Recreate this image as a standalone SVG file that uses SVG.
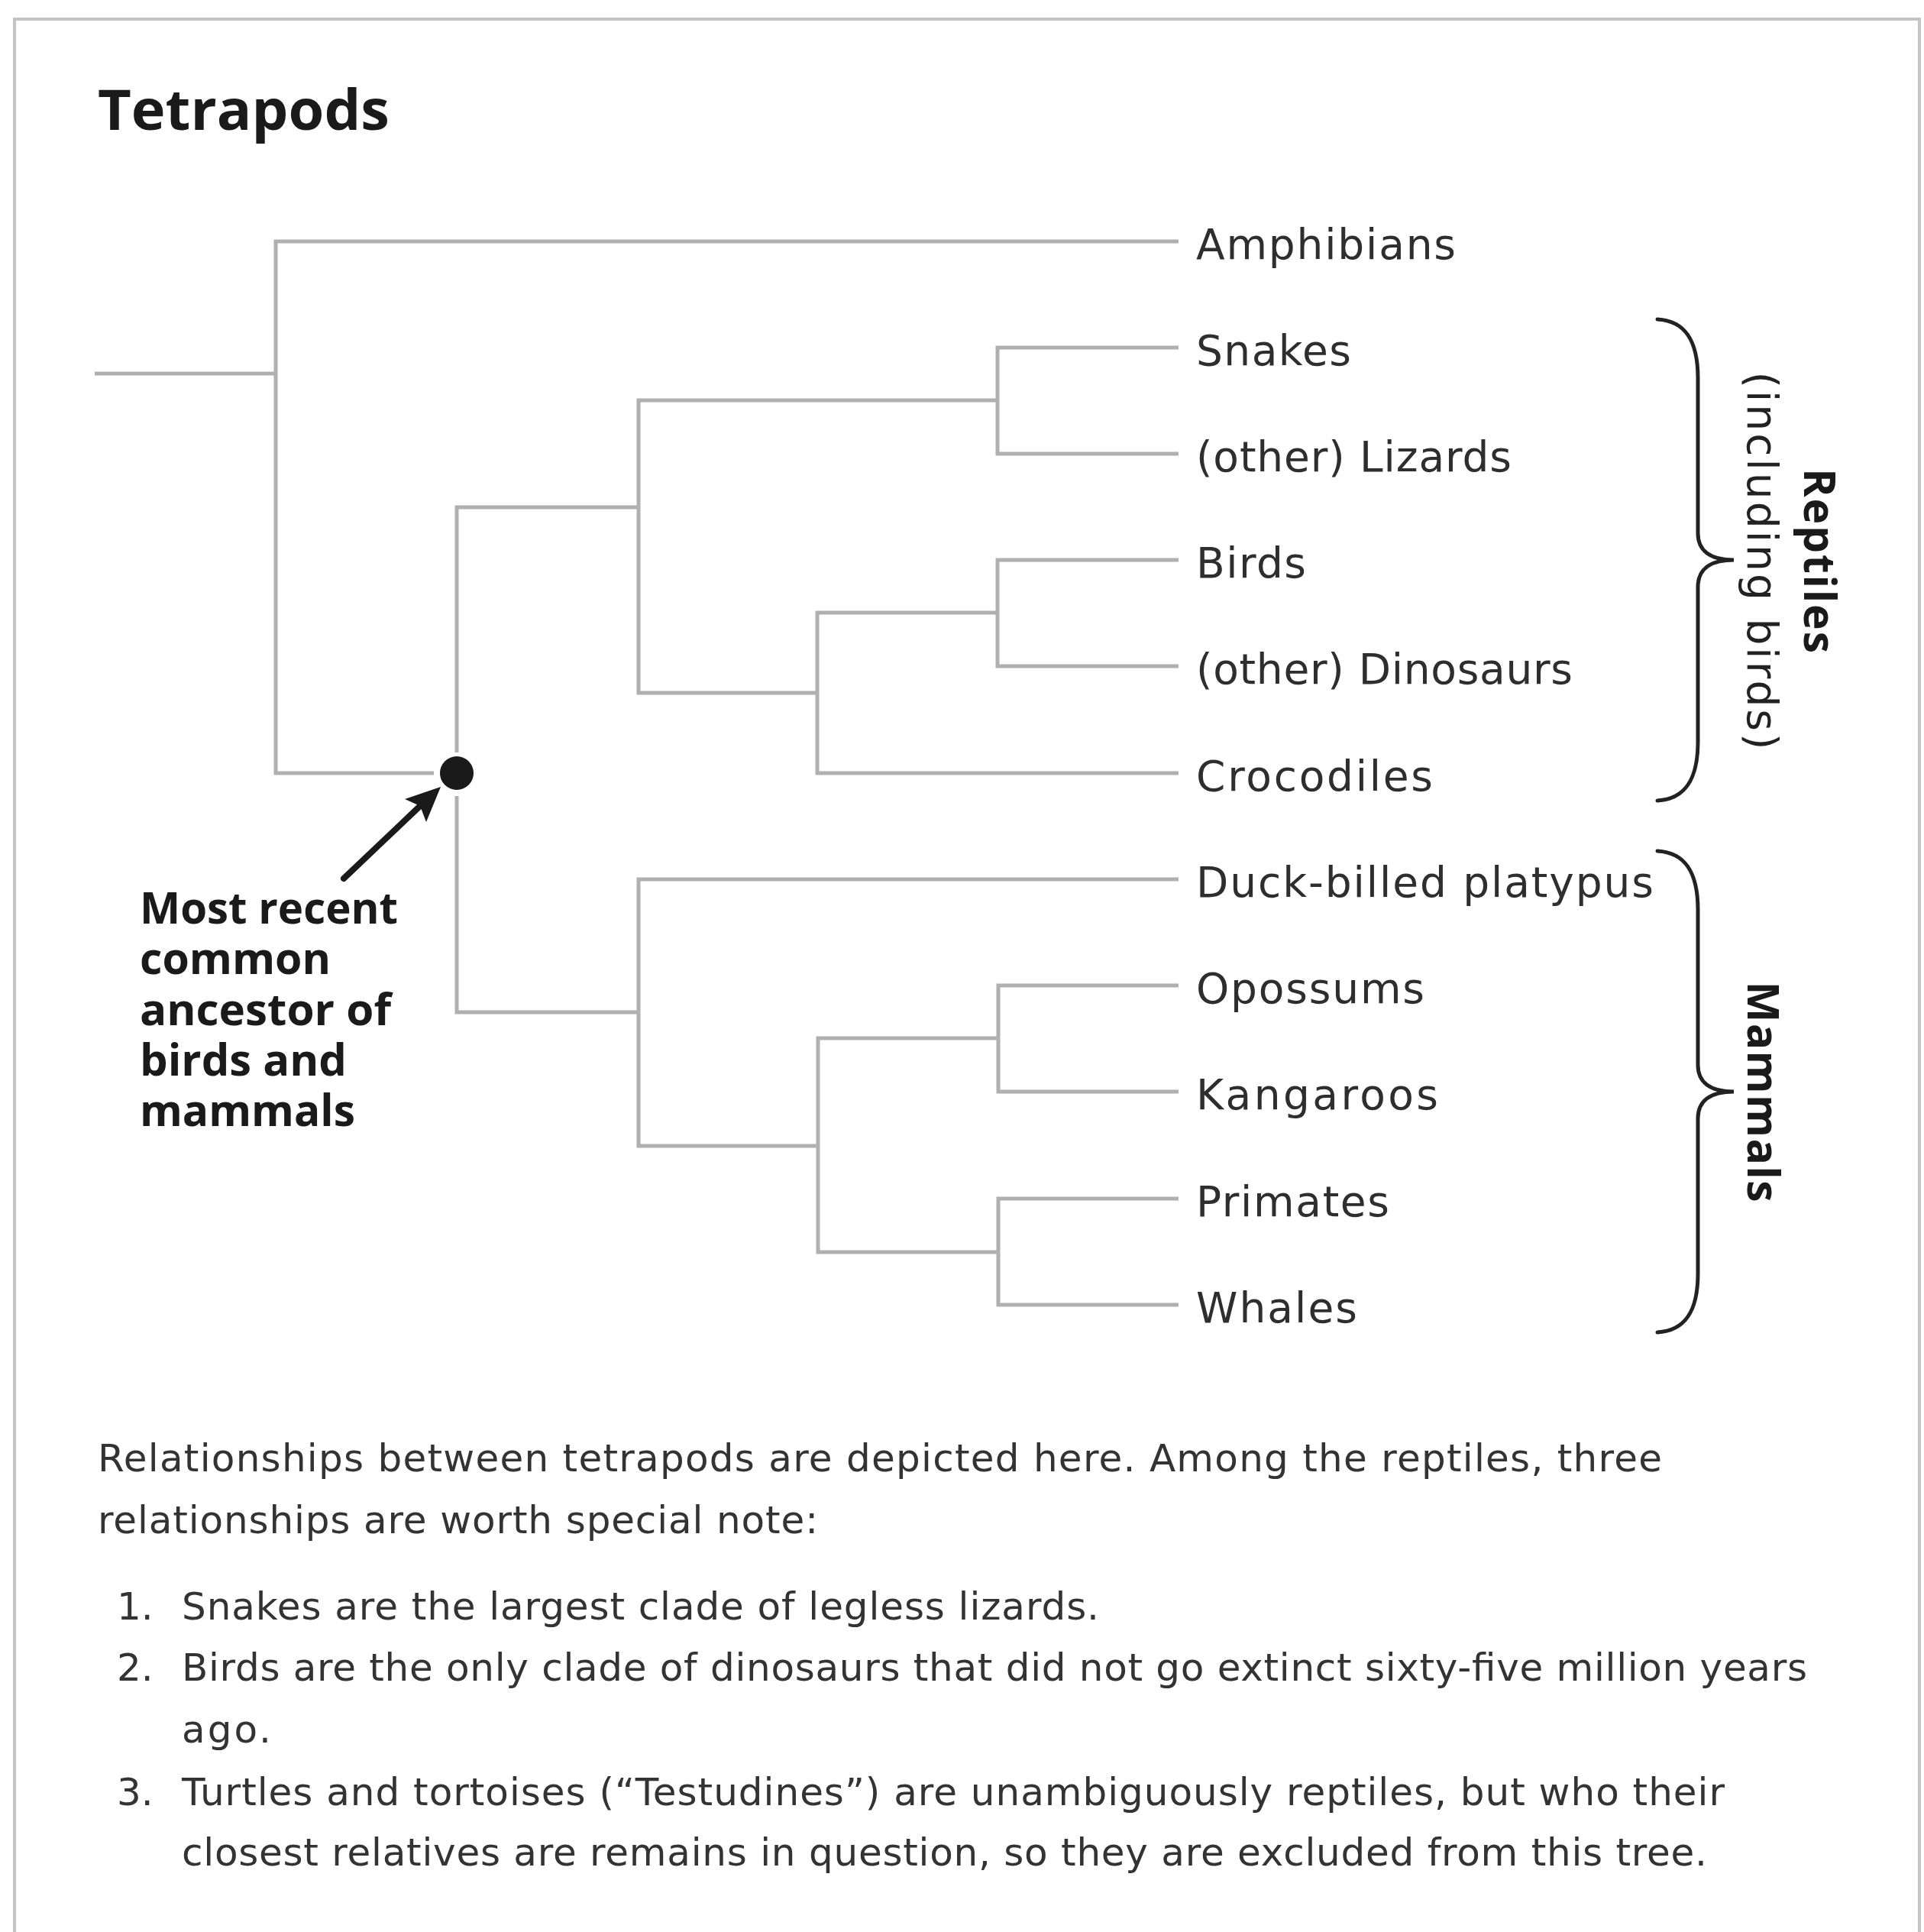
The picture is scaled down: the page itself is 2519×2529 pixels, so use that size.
<svg xmlns="http://www.w3.org/2000/svg" width="2519" height="2529" viewBox="0 0 2519 2529">
<style>
  .frame{fill:none;stroke:#c4c4c4;stroke-width:4}
  .br{fill:none;stroke:#b0b0b0;stroke-width:5;stroke-linejoin:miter;stroke-linecap:butt}
  .brace{fill:none;stroke:#222;stroke-width:5;stroke-linecap:round}
  .leaf{font-family:"DejaVu Sans","Open Sans",sans-serif;font-size:55px;fill:#2e2e2e}
  .title{font-family:"Open Sans","Noto Sans",sans-serif;font-size:73px;font-weight:700;fill:#1a1a1a}
  .ann{font-family:"Open Sans","Noto Sans",sans-serif;font-size:57px;font-weight:700;fill:#1a1a1a}
  .grp{font-family:"DejaVu Sans","Open Sans",sans-serif;font-size:55px;fill:#222}
  .grpb{font-family:"Open Sans","Noto Sans",sans-serif;font-size:57px;font-weight:700;fill:#1a1a1a}
  .body{font-family:"DejaVu Sans","Open Sans",sans-serif;font-size:50px;fill:#333}
</style>
<rect width="2519" height="2529" fill="#fff"/>
<rect class="frame" x="19" y="25" width="2494" height="2620"/>
<text id="title" class="title" x="128" y="170" textLength="382" lengthAdjust="spacingAndGlyphs">Tetrapods</text>

<g id="connectors">
  <path class="br" d="M124,489 H361"/>
  <path class="br" d="M1543,316 H361 V1012 H568"/>
  <path class="br" d="M598,985 V664 H836"/>
  <path class="br" d="M1543,455 H1306 V594 H1543"/>
  <path class="br" d="M1306,524 H836 V907 H1070"/>
  <path class="br" d="M1543,733 H1306 V872 H1543"/>
  <path class="br" d="M1306,802 H1070 V1012 H1543"/>
  <path class="br" d="M598,1042 V1325 H836"/>
  <path class="br" d="M1543,1151 H836 V1500 H1071"/>
  <path class="br" d="M1307,1359 H1071 V1639 H1307"/>
  <path class="br" d="M1543,1290 H1307 V1429 H1543"/>
  <path class="br" d="M1543,1569 H1307 V1708 H1543"/>
  <path d="M450,1150 L550,1055" stroke="#1a1a1a" stroke-width="8" stroke-linecap="round"/>
  <polygon points="577,1030 530,1046 550,1055 558,1076" fill="#1a1a1a"/>
</g>

<g id="ancestor">
  <circle cx="598" cy="1012" r="22" fill="#1a1a1a"/>
  <text class="ann" x="183" y="1209" textLength="338" lengthAdjust="spacingAndGlyphs">Most recent</text>
  <text class="ann" x="183" y="1275" textLength="250" lengthAdjust="spacingAndGlyphs">common</text>
  <text class="ann" x="183" y="1342" textLength="329" lengthAdjust="spacingAndGlyphs">ancestor of</text>
  <text class="ann" x="183" y="1408" textLength="271" lengthAdjust="spacingAndGlyphs">birds and</text>
  <text class="ann" x="183" y="1474" textLength="282" lengthAdjust="spacingAndGlyphs">mammals</text>
</g>

<g id="amphibians"><text class="leaf" x="1566" y="339" textLength="340" lengthAdjust="spacing">Amphibians</text></g>
<g id="snakes"><text class="leaf" x="1566" y="478" textLength="203" lengthAdjust="spacing">Snakes</text></g>
<g id="lizards"><text class="leaf" x="1566" y="617" textLength="413" lengthAdjust="spacing">(other) Lizards</text></g>
<g id="birds"><text class="leaf" x="1566" y="756" textLength="144" lengthAdjust="spacing">Birds</text></g>
<g id="dinosaurs"><text class="leaf" x="1566" y="895" textLength="493" lengthAdjust="spacing">(other) Dinosaurs</text></g>
<g id="crocodiles"><text class="leaf" x="1566" y="1035" textLength="310" lengthAdjust="spacing">Crocodiles</text></g>
<g id="platypus"><text class="leaf" x="1566" y="1174" textLength="599" lengthAdjust="spacing">Duck-billed platypus</text></g>
<g id="opossums"><text class="leaf" x="1566" y="1313" textLength="299" lengthAdjust="spacing">Opossums</text></g>
<g id="kangaroos"><text class="leaf" x="1566" y="1452" textLength="317" lengthAdjust="spacing">Kangaroos</text></g>
<g id="primates"><text class="leaf" x="1566" y="1592" textLength="253" lengthAdjust="spacing">Primates</text></g>
<g id="whales"><text class="leaf" x="1566" y="1731" textLength="211" lengthAdjust="spacing">Whales</text></g>

<g id="reptiles-group">
  <path class="brace" d="M2170,418 C2206,420 2223,445 2223,495 V698 C2223,720 2238,733 2270,733 C2238,733 2223,746 2223,768 V971 C2223,1021 2206,1046 2170,1048"/>
  <text class="grpb" transform="translate(2362,734) rotate(90)" x="0" y="0" text-anchor="middle" textLength="242" lengthAdjust="spacing">Reptiles</text>
  <text class="grp" transform="translate(2288,734) rotate(90)" x="0" y="0" text-anchor="middle" textLength="495" lengthAdjust="spacing">(including birds)</text>
</g>

<g id="mammals-group">
  <path class="brace" d="M2170,1114 C2206,1116 2223,1141 2223,1191 V1394 C2223,1416 2238,1429 2270,1429 C2238,1429 2223,1442 2223,1464 V1667 C2223,1717 2206,1742 2170,1744"/>
  <text class="grpb" transform="translate(2288,1429) rotate(90)" x="0" y="0" text-anchor="middle" textLength="289" lengthAdjust="spacing">Mammals</text>
</g>

<g id="caption">
  <text class="body" x="128" y="1926" textLength="2048" lengthAdjust="spacing">Relationships between tetrapods are depicted here. Among the reptiles, three</text>
  <text class="body" x="128" y="2007" textLength="943" lengthAdjust="spacing">relationships are worth special note:</text>
  <text class="body" x="153" y="2120">1.</text>
  <text class="body" x="238" y="2120" textLength="1201" lengthAdjust="spacing">Snakes are the largest clade of legless lizards.</text>
  <text class="body" x="153" y="2200">2.</text>
  <text class="body" x="238" y="2200" textLength="2128" lengthAdjust="spacing">Birds are the only clade of dinosaurs that did not go extinct sixty-five million years</text>
  <text class="body" x="238" y="2281" textLength="117" lengthAdjust="spacing">ago.</text>
  <text class="body" x="153" y="2363">3.</text>
  <text class="body" x="238" y="2363" textLength="2020" lengthAdjust="spacing">Turtles and tortoises (“Testudines”) are unambiguously reptiles, but who their</text>
  <text class="body" x="238" y="2442" textLength="1997" lengthAdjust="spacing">closest relatives are remains in question, so they are excluded from this tree.</text>
</g>
</svg>
